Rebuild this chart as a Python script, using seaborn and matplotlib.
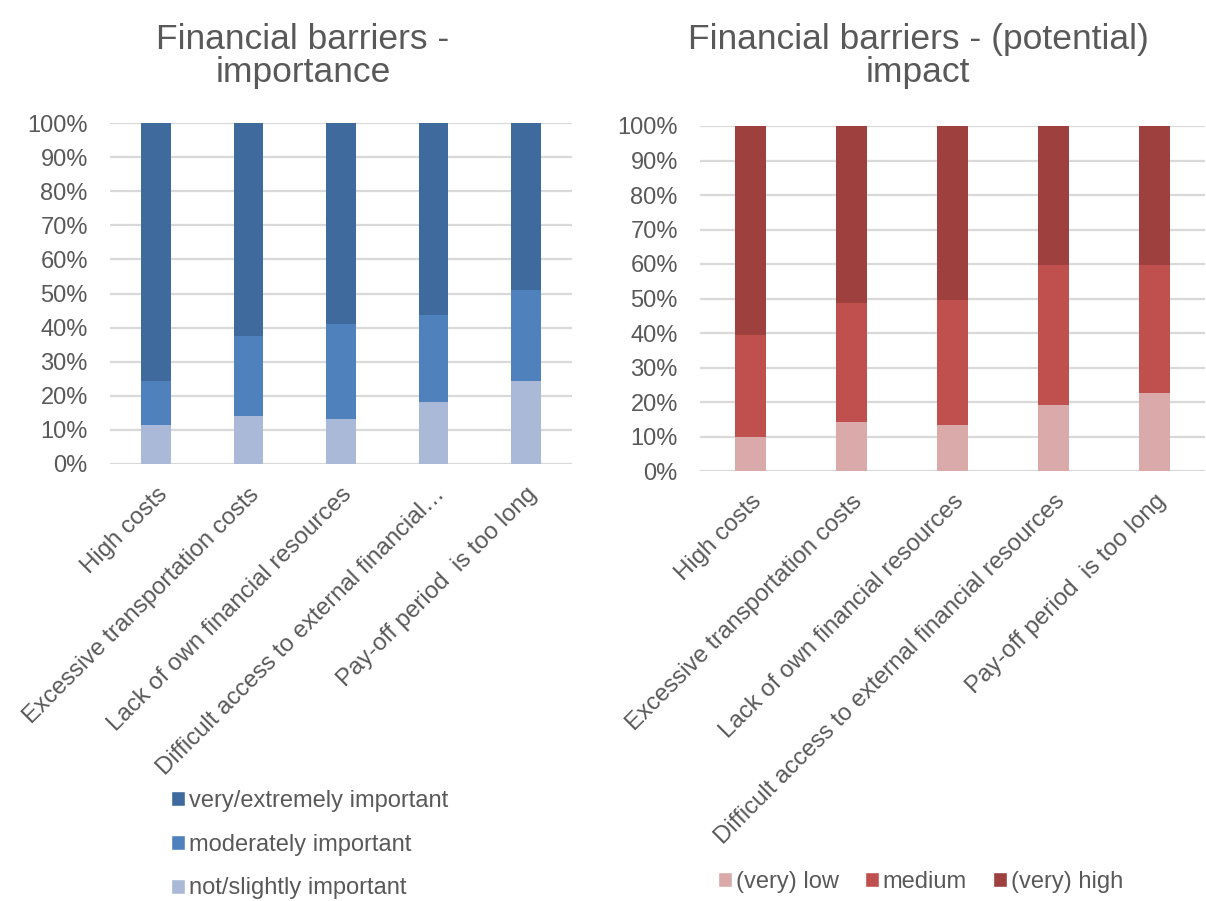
import matplotlib
matplotlib.use("Agg")
import matplotlib.pyplot as plt
from matplotlib.patches import Patch
import numpy as np
import pandas as pd
import seaborn as sns

# --- data -------------------------------------------------------------
categories = [
    "High costs",
    "Excessive transportation costs",
    "Lack of own financial resources",
    "Difficult access to external financial resources",
    "Pay-off period  is too long",
]
importance_tick_labels = [
    "High costs",
    "Excessive transportation costs",
    "Lack of own financial resources",
    "Difficult access to external financial\u2026",
    "Pay-off period  is too long",
]

# importance shares (%)
imp_not_slightly = [11.5, 14.2, 13.3, 18.3, 24.2]
imp_moderately = [12.9, 23.4, 27.9, 25.3, 26.9]
imp_very_extremely = [75.6, 62.4, 58.8, 56.4, 48.9]
imp_series = ["very/extremely important", "moderately important", "not/slightly important"]

# (potential) impact shares (%)
impact_low = [9.8, 14.2, 13.3, 19.1, 22.6]
impact_medium = [29.5, 34.4, 36.3, 40.5, 37.0]
impact_high = [60.7, 51.4, 50.4, 40.4, 40.4]
impact_series = ["(very) low", "medium", "(very) high"]

y_ticks = list(range(0, 101, 10))

# --- style ------------------------------------------------------------
sns.set_theme(style="white")
plt.rcParams["font.family"] = ["Liberation Sans", "DejaVu Sans"]
TEXT = "#595959"
GRID = "#D9D9D9"
FS = 17
FS_CAT = 17.3

blues = {"dark": "#3F6A9D", "mid": "#4F81BD", "light": "#AAB9D7"}
reds = {"dark": "#9E403E", "mid": "#C0504D", "light": "#DAA9A9"}

fig = plt.figure(figsize=(12.06, 9.01), dpi=100)
W, H = 1206, 901


def px_axes(x0, y0, x1, y1):
    return fig.add_axes([x0 / W, 1 - y1 / H, (x1 - x0) / W, (y1 - y0) / H])


def stacked(ax, low, mid, high, colors, width):
    df = pd.DataFrame({"cat": categories, "low": low, "mid": mid, "high": high})
    df["c_mid"] = df["low"] + df["mid"]
    df["c_top"] = df["c_mid"] + df["high"]
    for col, c in [("c_top", colors["dark"]), ("c_mid", colors["mid"]), ("low", colors["light"])]:
        sns.barplot(data=df, x="cat", y=col, order=categories, color=c, saturation=1,
                    width=width, linewidth=0, errorbar=None, ax=ax)


def style_axes(ax, tick_labels):
    ax.set_ylim(0, 100)
    ax.set_xlim(-0.5, 4.5)
    ax.set_yticks(y_ticks, [f"{v}%" for v in y_ticks])
    ax.set_xticks(range(len(categories)))
    ax.set_xticklabels(tick_labels, rotation=45, ha="right", va="top",
                       rotation_mode="anchor")
    ax.set_xlabel("")
    ax.set_ylabel("")
    ax.yaxis.grid(True, color=GRID, linewidth=1.6)
    ax.xaxis.grid(False)
    ax.set_axisbelow(True)
    for s in ax.spines.values():
        s.set_visible(False)
    ax.tick_params(axis="y", length=0, pad=16, labelsize=FS, labelcolor=TEXT)
    ax.tick_params(axis="x", length=0, pad=14, labelsize=FS_CAT, labelcolor=TEXT)


# --- left: importance -------------------------------------------------
ax1 = px_axes(110, 123, 572, 464)
stacked(ax1, imp_not_slightly, imp_moderately, imp_very_extremely, blues, 0.32)
style_axes(ax1, importance_tick_labels)

fig.text(303 / W, 1 - 49 / H, "Financial barriers -", ha="center", va="baseline",
         fontsize=25.5, color=TEXT)
fig.text(303 / W, 1 - 82 / H, "importance", ha="center", va="baseline",
         fontsize=25.5, color=TEXT)

h1 = [Patch(facecolor=blues["dark"]), Patch(facecolor=blues["mid"]), Patch(facecolor=blues["light"])]
fig.legend(h1, imp_series, loc="upper left", bbox_to_anchor=(171 / W, 1 - 790 / H),
           frameon=False, fontsize=FS, labelcolor=TEXT, borderpad=0, borderaxespad=0,
           handlelength=0.6, handleheight=0.6, handletextpad=0.15, labelspacing=0.92)

# --- right: (potential) impact ----------------------------------------
ax2 = px_axes(700, 126, 1205, 471)
stacked(ax2, impact_low, impact_medium, impact_high, reds, 0.31)
style_axes(ax2, categories)

fig.text(918 / W, 1 - 49 / H, "Financial barriers - (potential)", ha="center", va="baseline",
         fontsize=25.5, color=TEXT)
fig.text(918 / W, 1 - 82 / H, "impact", ha="center", va="baseline",
         fontsize=25.5, color=TEXT)

h2 = [Patch(facecolor=reds["light"]), Patch(facecolor=reds["mid"]), Patch(facecolor=reds["dark"])]
fig.legend(h2, impact_series, loc="center left", bbox_to_anchor=(718 / W, 1 - 882 / H),
           ncol=3, frameon=False, fontsize=FS, labelcolor=TEXT, borderpad=0, borderaxespad=0,
           handlelength=0.6, handleheight=0.6, handletextpad=0.15, columnspacing=1.12)

fig.savefig("out.png", dpi=100, facecolor="white")
